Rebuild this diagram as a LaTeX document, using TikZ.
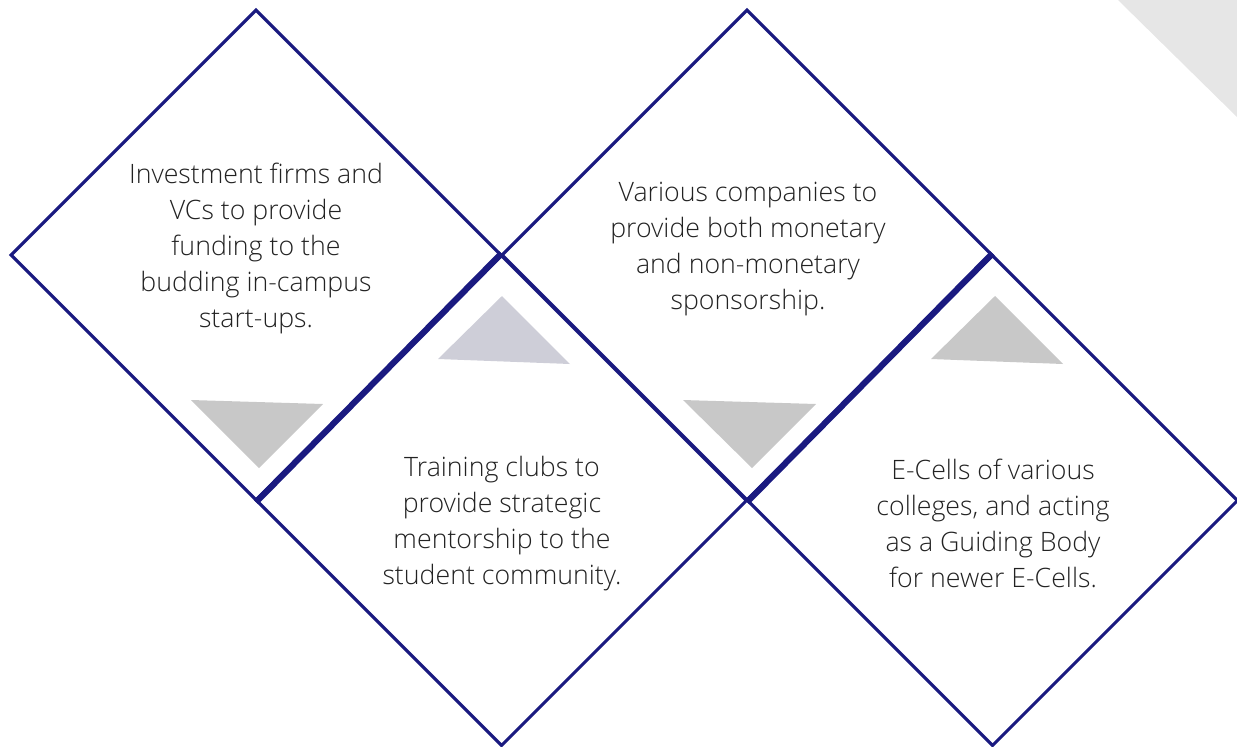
\documentclass[tikz,border=0pt]{standalone}
\usepackage{fontspec}
\setmainfont{Open Sans Light}
\usetikzlibrary{shapes.geometric,positioning}

\definecolor{navy}{RGB}{26,26,128}
\definecolor{pointgrey}{RGB}{200,200,200}
\definecolor{pointlilac}{RGB}{206,206,216}
\definecolor{cornergrey}{RGB}{230,230,230}
\definecolor{inkgrey}{RGB}{34,34,34}

\tikzset{
  tile/.style={diamond, aspect=1, draw=navy, line width=2.2pt, inner sep=0pt,
    minimum width=12.275cm, minimum height=12.275cm},
  seam/.style={draw=navy, line width=4.4pt},
  blurb/.style={text=inkgrey, align=center, font=\fontsize{19}{25.6}\selectfont},
}

\begin{document}
\begin{tikzpicture}[x=0.025cm, y=-0.025cm]
\useasboundingbox (0,0) rectangle (1237,746);

% corner shade
\fill[cornergrey] (1118,0) -- (1237,0) -- (1237,117) -- cycle;

% pointers
\fill[pointgrey] (191,400) -- (323,404) -- (259,468) -- cycle;
\fill[pointlilac] (502,296) -- (438,359) -- (570,364) -- cycle;
\fill[pointgrey] (683,400) -- (816,404) -- (752,468) -- cycle;
\fill[pointgrey] (995,296) -- (931,359) -- (1063,364) -- cycle;

% tiles
\node[tile] (d1) at (256,255) {};
\node[tile] (d2) at (501.5,500.5) {};
\node[tile] (d3) at (747,255) {};
\node[tile] (d4) at (992.5,500.5) {};

\draw[seam] (d1.south) -- (d2.north);
\draw[seam] (d3.south) -- (d4.north);

% texts
\node[blurb] (t1) at (256,248) {Investment firms and\\VCs to provide\\funding to the\\budding in-campus\\start-ups.};
\node[blurb] (t2) at (502,524) {Training clubs to\\provide strategic\\mentorship to the\\student community.};
\node[blurb] (t3) at (748,249) {Various companies to\\provide both monetary\\and non-monetary\\sponsorship.};
\node[blurb] (t4) at (993,523) {E-Cells of various\\colleges, and acting\\as a Guiding Body\\for newer E-Cells.};

\end{tikzpicture}
\end{document}
